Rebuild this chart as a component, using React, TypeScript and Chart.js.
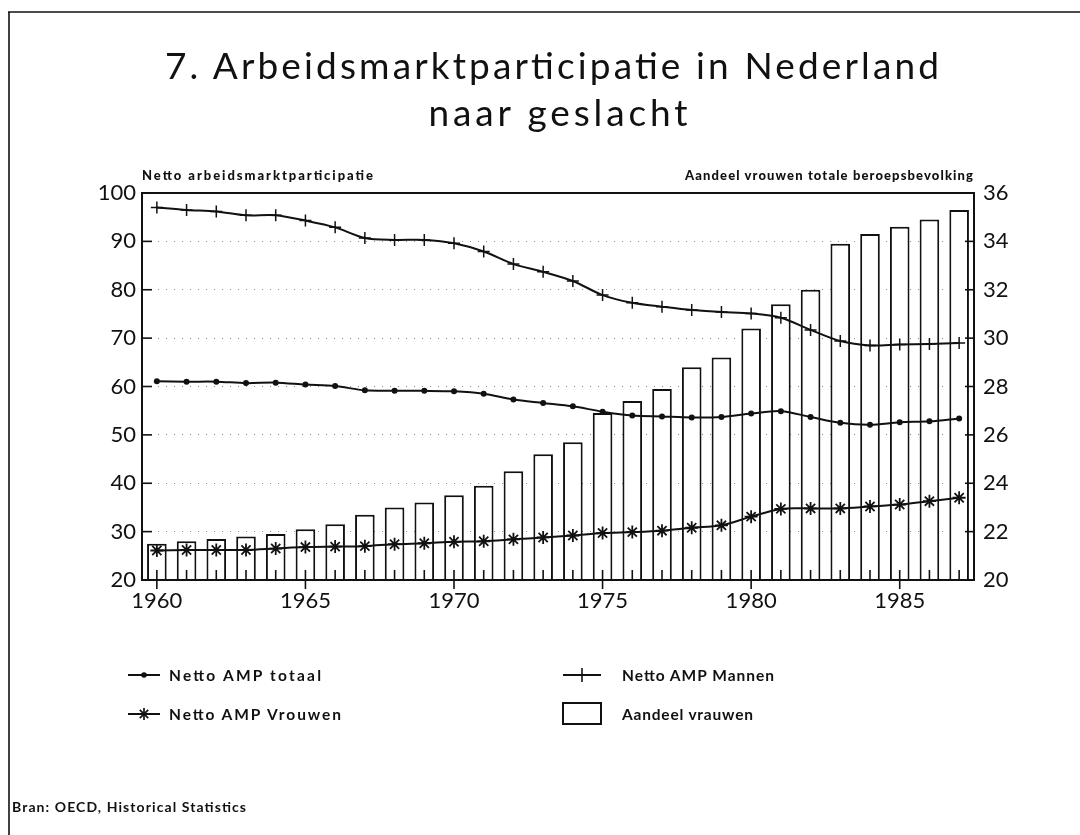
import React, { useEffect, useRef } from "react";
import { Chart, registerables } from "chart.js";

Chart.register(...registerables);

const years = [1960, 1961, 1962, 1963, 1964, 1965, 1966, 1967, 1968, 1969, 1970, 1971, 1972, 1973, 1974, 1975, 1976, 1977, 1978, 1979, 1980, 1981, 1982, 1983, 1984, 1985, 1986, 1987];
const aandeelVrouwen = [21.5, 21.6, 21.7, 21.8, 21.9, 22.1, 22.3, 22.7, 23.0, 23.2, 23.5, 23.9, 24.5, 25.2, 25.7, 26.9, 27.4, 27.9, 28.8, 29.2, 30.4, 31.4, 32.0, 33.9, 34.3, 34.6, 34.9, 35.3];
const ampMannen = [97.0, 96.5, 96.2, 95.4, 95.4, 94.3, 92.9, 90.7, 90.3, 90.3, 89.6, 87.9, 85.3, 83.7, 81.8, 78.9, 77.3, 76.5, 75.8, 75.4, 75.1, 74.2, 71.7, 69.4, 68.5, 68.7, 68.8, 69.0];
const ampTotaal = [61.1, 61.0, 61.0, 60.7, 60.8, 60.4, 60.1, 59.2, 59.1, 59.1, 59.0, 58.5, 57.3, 56.6, 55.9, 54.8, 54.0, 53.8, 53.6, 53.7, 54.4, 54.9, 53.7, 52.5, 52.1, 52.6, 52.8, 53.4];
const ampVrouwen = [26.1, 26.2, 26.2, 26.2, 26.5, 26.8, 26.9, 27.0, 27.4, 27.6, 27.9, 28.0, 28.4, 28.8, 29.2, 29.7, 29.9, 30.2, 30.8, 31.3, 33.1, 34.7, 34.8, 34.8, 35.2, 35.6, 36.3, 37.0];
const leftTicks = [20, 30, 40, 50, 60, 70, 80, 90, 100];
const rightTicks = [20, 22, 24, 26, 28, 30, 32, 34, 36];

const INK = "#111";

const framePlugin = {
  id: "frameTicks",
  afterDraw(chart: any) {
    const { ctx, chartArea } = chart;
    const { left, right, top, bottom } = chartArea;
    const x = chart.scales.x;
    const y = chart.scales.y;
    const y2 = chart.scales.y2;
    ctx.save();
    ctx.strokeStyle = INK;
    ctx.lineWidth = 2;
    ctx.strokeRect(left, top, right - left, bottom - top);
    ctx.lineWidth = 1.6;
    years.forEach((yr, i) => {
      const px = x.getPixelForValue(i);
      ctx.beginPath();
      ctx.moveTo(px, bottom - 10);
      ctx.lineTo(px, yr % 5 === 0 ? bottom + 9 : bottom);
      ctx.stroke();
    });
    leftTicks.forEach((v) => {
      const py = y.getPixelForValue(v);
      ctx.beginPath();
      ctx.moveTo(left, py);
      ctx.lineTo(left + 10, py);
      ctx.stroke();
    });
    rightTicks.forEach((v) => {
      const py = y2.getPixelForValue(v);
      ctx.beginPath();
      ctx.moveTo(right - 9, py);
      ctx.lineTo(right, py);
      ctx.stroke();
    });
    ctx.restore();
  },
};

function App() {
  const ref = useRef<HTMLCanvasElement | null>(null);

  useEffect(() => {
    if (!ref.current) return;
    const tickFont = { family: "Lato", size: 22, weight: "normal" as const };
    const chart = new Chart(ref.current, {
      type: "bar",
      data: {
        labels: years.map(String),
        datasets: [
          {
            type: "line",
            label: "Netto AMP totaal",
            data: ampTotaal,
            yAxisID: "y",
            borderColor: INK,
            backgroundColor: INK,
            borderWidth: 2,
            tension: 0.3,
            pointStyle: "circle",
            pointRadius: 3,
            pointBorderWidth: 0,
            order: 1,
          },
          {
            type: "line",
            label: "Netto AMP Mannen",
            data: ampMannen,
            yAxisID: "y",
            borderColor: INK,
            backgroundColor: INK,
            borderWidth: 2,
            tension: 0.3,
            pointStyle: "cross",
            pointRadius: 6,
            pointBorderWidth: 1.5,
            order: 1,
          },
          {
            type: "line",
            label: "Netto AMP Vrouwen",
            data: ampVrouwen,
            yAxisID: "y",
            borderColor: INK,
            backgroundColor: INK,
            borderWidth: 2,
            tension: 0.3,
            pointStyle: "star",
            pointRadius: 6.5,
            pointBorderWidth: 1.8,
            order: 1,
          },
          {
            type: "bar",
            label: "Aandeel vrauwen",
            data: aandeelVrouwen,
            yAxisID: "y2",
            base: 20,
            backgroundColor: "#ffffff",
            borderColor: INK,
            borderWidth: 2,
            borderSkipped: "bottom",
            categoryPercentage: 1,
            barPercentage: 0.66,
            order: 2,
          } as any,
        ],
      },
      options: {
        animation: false,
        responsive: false,
        maintainAspectRatio: false,
        events: [],
        layout: { padding: { left: 0, right: 0, top: 193, bottom: 215 } },
        plugins: {
          legend: { display: false },
          title: { display: false },
          tooltip: { enabled: false },
        },
        scales: {
          x: {
            type: "category",
            offset: true,
            grid: { display: false, drawTicks: false },
            border: { display: false },
            ticks: {
              autoSkip: false,
              maxRotation: 0,
              minRotation: 0,
              padding: 8,
              color: INK,
              font: tickFont,
              callback: (_v: any, i: number) => (years[i] % 5 === 0 ? String(years[i]) : ""),
            },
            afterFit: (s: any) => {
              s.height = 40;
            },
          },
          y: {
            type: "linear",
            position: "left",
            min: 20,
            max: 100,
            ticks: { stepSize: 10, padding: 6, color: INK, font: tickFont },
            grid: {
              drawTicks: false,
              color: (c: any) => (c.tick && (c.tick.value === 20 || c.tick.value === 100) ? "rgba(0,0,0,0)" : "#8a8a8a"),
              lineWidth: 1,
            },
            border: { display: false, dash: [1, 7] },
            afterFit: (s: any) => {
              s.width = 142;
            },
          },
          y2: {
            type: "linear",
            position: "right",
            min: 20,
            max: 36,
            ticks: { stepSize: 2, padding: 9, color: INK, font: tickFont },
            grid: { display: false, drawTicks: false },
            border: { display: false },
            afterFit: (s: any) => {
              s.width = 106;
            },
          },
        },
      },
      plugins: [framePlugin],
    } as any);
    return () => chart.destroy();
  }, []);

  const bold = { fontFamily: "Lato", fontWeight: 700, fill: INK } as any;
  const heavy = { fontFamily: "Lato", fontWeight: 900, fill: INK } as any;

  return (
    <div style={{ position: "absolute", left: 0, top: 0, width: 1080, height: 835, background: "#fff", overflow: "hidden" }}>
      <canvas ref={ref} width={1080} height={835} style={{ position: "absolute", left: 0, top: 0, width: 1080, height: 835 }} />
      <svg width={1080} height={835} style={{ position: "absolute", left: 0, top: 0, pointerEvents: "none" }}>
        <line x1={8} y1={12} x2={1080} y2={12} stroke={INK} strokeWidth={1.6} />
        <line x1={9} y1={12} x2={9} y2={835} stroke={INK} strokeWidth={1.6} />
        <text x={552} y={79} textAnchor="middle" textLength={774} lengthAdjust="spacing" style={{ fontFamily: "Lato", fontWeight: 400, fontSize: 37, fill: INK }}>
          7. Arbeidsmarktparticipatie in Nederland
        </text>
        <text x={558} y={126} textAnchor="middle" textLength={259} lengthAdjust="spacing" style={{ fontFamily: "Lato", fontWeight: 400, fontSize: 37, fill: INK }}>
          naar geslacht
        </text>
        <text x={142} y={180} textLength={231} lengthAdjust="spacing" style={{ ...heavy, fontSize: 13 }}>
          Netto arbeidsmarktparticipatie
        </text>
        <text x={973} y={180} textAnchor="end" textLength={288} lengthAdjust="spacing" style={{ ...heavy, fontSize: 13 }}>
          Aandeel vrouwen totale beroepsbevolking
        </text>

        {/* legend */}
        <line x1={128} y1={675} x2={160} y2={675} stroke={INK} strokeWidth={2} />
        <circle cx={144} cy={675} r={2.8} fill={INK} />
        <text x={169} y={681} textLength={152} lengthAdjust="spacing" style={{ ...bold, fontSize: 15.5 }}>
          Netto AMP totaal
        </text>

        <line x1={128} y1={714} x2={160} y2={714} stroke={INK} strokeWidth={2} />
        <g stroke={INK} strokeWidth={1.7}>
          <line x1={144} y1={708} x2={144} y2={720} />
          <line x1={138} y1={714} x2={150} y2={714} />
          <line x1={139.8} y1={709.8} x2={148.2} y2={718.2} />
          <line x1={139.8} y1={718.2} x2={148.2} y2={709.8} />
        </g>
        <text x={169} y={720} textLength={172} lengthAdjust="spacing" style={{ ...bold, fontSize: 15.5 }}>
          Netto AMP Vrouwen
        </text>

        <line x1={563} y1={675} x2={601} y2={675} stroke={INK} strokeWidth={2} />
        <line x1={582} y1={668} x2={582} y2={682} stroke={INK} strokeWidth={1.6} />
        <text x={622} y={681} textLength={152} lengthAdjust="spacing" style={{ ...bold, fontSize: 15.5 }}>
          Netto AMP Mannen
        </text>

        <rect x={563} y={703} width={38} height={21} fill="#fff" stroke={INK} strokeWidth={2} />
        <text x={622} y={720} textLength={131} lengthAdjust="spacing" style={{ ...bold, fontSize: 15.5 }}>
          Aandeel vrauwen
        </text>

        <text x={12} y={812} textLength={234} lengthAdjust="spacing" style={{ ...bold, fontSize: 14 }}>
          Bran: OECD, Historical Statistics
        </text>
      </svg>
    </div>
  );
}

export default App;
